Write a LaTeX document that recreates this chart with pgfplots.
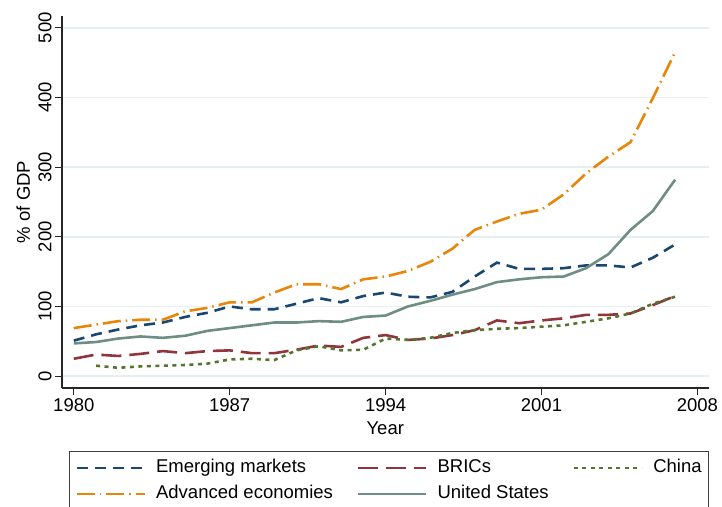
\documentclass[border=0pt]{standalone}
\usepackage{fontspec}
\setmainfont{Liberation Sans}
\usepackage{pgfplots}
\pgfplotsset{compat=1.18}

\definecolor{emnavy}{RGB}{26,71,111}
\definecolor{bricmaroon}{RGB}{144,53,59}
\definecolor{chinagreen}{RGB}{85,117,47}
\definecolor{advorange}{RGB}{232,134,10}
\definecolor{usteal}{RGB}{110,142,132}
\definecolor{gridblue}{RGB}{232,239,242}
\newcommand{\fs}{\fontsize{18.5}{22}\selectfont}

\begin{document}
\begin{tikzpicture}
\begin{axis}[
    scale only axis,
    width=646.5pt, height=372pt,
    xmin=1979.47, xmax=2008.5,
    ymin=-17, ymax=517,
    axis lines*=left,
    axis line style={black!85, line width=1.3pt},
    xtick={1980,1987,1994,2001,2008},
    ytick={0,100,200,300,400,500},
    tick align=outside,
    major tick length=7pt,
    tick style={black!85, line width=1.3pt},
    ymajorgrids,
    major grid style={gridblue, line width=1.4pt},
    /pgf/number format/assume math mode=true,
    /pgf/number format/1000 sep={},
    tick label style={font=\fs},
    yticklabel style={rotate=90, anchor=south},
    xlabel={Year},
    ylabel={\% of GDP},
    every axis x label/.style={at={(axis description cs:0.5,0)}, yshift=-46pt, anchor=base, font=\fs},
    every axis y label/.style={at={(axis description cs:0,0.5)}, xshift=-32pt, rotate=90, anchor=base, font=\fs},
    legend columns=3,
    legend cell align=left,
    legend style={
        at={(axis description cs:0.01005,-0.1694)}, anchor=north west,
        draw=black!75, line width=1pt, font=\fs,
        inner xsep=6.5pt, inner ysep=8pt, row sep=9pt,
        /tikz/every even column/.append style={column sep=24pt},
        /tikz/every odd column/.append style={column sep=10pt},
        nodes={inner sep=0pt, text height=13pt, text depth=4pt},
    },
    legend image code/.code={\draw[#1] (0pt,0pt) -- (68pt,0pt);},
]

% Emerging markets
\addplot[emnavy, line width=2.6pt, dash pattern=on 11pt off 7pt] coordinates {
    (1980,51) (1981,60) (1982,67) (1983,73) (1984,77) (1985,85) (1986,91)
    (1987,100) (1988,96) (1989,96) (1990,104) (1991,112) (1992,106)
    (1993,115) (1994,120) (1995,114) (1996,113) (1997,121) (1998,143)
    (1999,163) (2000,154) (2001,154) (2002,155) (2003,159) (2004,159)
    (2005,156) (2006,170) (2007,189)
};
\addlegendentry{Emerging markets}

% BRICs
\addplot[bricmaroon, line width=2.6pt, dash pattern=on 20pt off 8pt] coordinates {
    (1980,25) (1981,31) (1982,29) (1983,32) (1984,36) (1985,33) (1986,36)
    (1987,37) (1988,33) (1989,33) (1990,38) (1991,44) (1992,42)
    (1993,55) (1994,59) (1995,52) (1996,54) (1997,59) (1998,66)
    (1999,80) (2000,76) (2001,80) (2002,83) (2003,88) (2004,88)
    (2005,90) (2006,102) (2007,115)
};
\addlegendentry{BRICs}

% China
\addplot[chinagreen, line width=2.6pt, dash pattern=on 4pt off 4.5pt] coordinates {
    (1981,15) (1982,12) (1983,14) (1984,15) (1985,16) (1986,18)
    (1987,24) (1988,25) (1989,23) (1990,37) (1991,43) (1992,37)
    (1993,38) (1994,54) (1995,52) (1996,55) (1997,62) (1998,66)
    (1999,68) (2000,69) (2001,71) (2002,73) (2003,78) (2004,83)
    (2005,90) (2006,104) (2007,114)
};
\addlegendentry{China}

% Advanced economies
\addplot[advorange, line width=2.6pt, dash pattern=on 18pt off 5pt on 1.5pt off 5pt] coordinates {
    (1980,69) (1981,74) (1982,79) (1983,81) (1984,81) (1985,93) (1986,98)
    (1987,106) (1988,106) (1989,120) (1990,132) (1991,132) (1992,125)
    (1993,139) (1994,143) (1995,151) (1996,164) (1997,183) (1998,210)
    (1999,222) (2000,233) (2001,239) (2002,261) (2003,291) (2004,315)
    (2005,336) (2006,399) (2007,465)
};
\addlegendentry{Advanced economies}

% United States
\addplot[usteal, line width=2.6pt] coordinates {
    (1980,47) (1981,49) (1982,54) (1983,57) (1984,55) (1985,58) (1986,65)
    (1987,69) (1988,73) (1989,77) (1990,77) (1991,79) (1992,78)
    (1993,85) (1994,87) (1995,100) (1996,108) (1997,117) (1998,125)
    (1999,135) (2000,139) (2001,142) (2002,143) (2003,155) (2004,175)
    (2005,210) (2006,237) (2007,282)
};
\addlegendentry{United States}

\end{axis}
\pgfresetboundingbox
\path[use as bounding box] (-62pt,-118pt) rectangle (660pt,388pt);
\end{tikzpicture}
\end{document}
